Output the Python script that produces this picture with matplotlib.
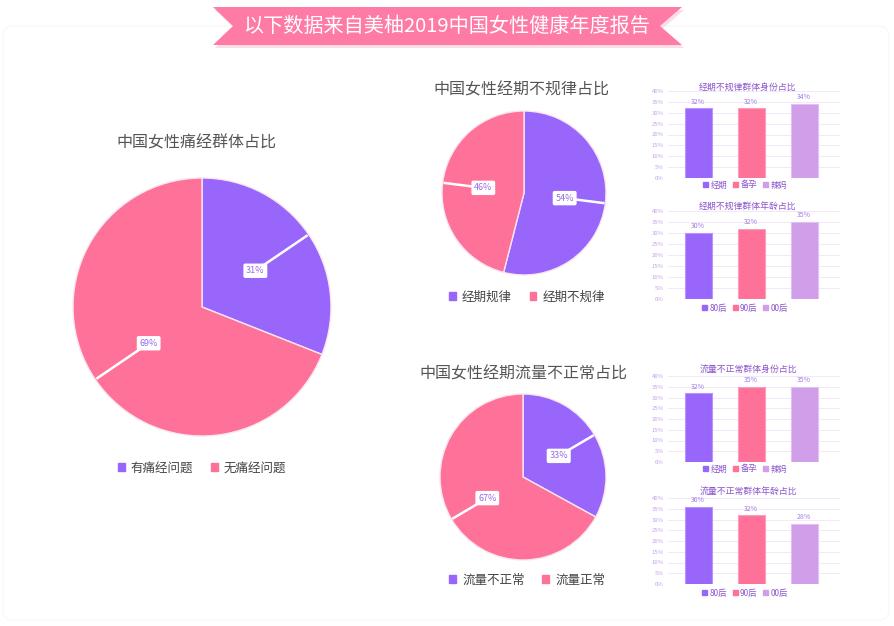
import numpy as np
import matplotlib
matplotlib.use("Agg")
import matplotlib.pyplot as plt
from matplotlib.patches import Patch, Polygon, FancyBboxPatch

plt.rcParams['font.family'] = ['Noto Sans CJK SC', 'DejaVu Sans']

# ---------------- data ----------------
banner_text = "以下数据来自美柚2019中国女性健康年度报告"

pain_title = "中国女性痛经群体占比"
pain_labels = ["有痛经问题", "无痛经问题"]
pain_values = [31, 69]

regular_title = "中国女性经期不规律占比"
regular_labels = ["经期规律", "经期不规律"]
regular_values = [54, 46]

flow_title = "中国女性经期流量不正常占比"
flow_labels = ["流量不正常", "流量正常"]
flow_values = [33, 67]

identity_cats = ["经期", "备孕", "辣妈"]
age_cats = ["80后", "90后", "00后"]

irregular_identity_title = "经期不规律群体身份占比"
irregular_identity_values = [32, 32, 34]
irregular_age_title = "经期不规律群体年龄占比"
irregular_age_values = [30, 32, 35]
flow_identity_title = "流量不正常群体身份占比"
flow_identity_values = [32, 35, 35]
flow_age_title = "流量不正常群体年龄占比"
flow_age_values = [36, 32, 28]

y_ticks = [0, 5, 10, 15, 20, 25, 30, 35, 40]

# ---------------- style ----------------
PURPLE = "#9966fb"
PINK = "#fe7199"
LILAC = "#d19ee9"
W, H = 894, 626

fig = plt.figure(figsize=(W / 100, H / 100), dpi=100)
fig.patch.set_facecolor("white")


def rect(x0, y0, x1, y1):
    return [x0 / W, 1 - y1 / H, (x1 - x0) / W, (y1 - y0) / H]


def fx(x):
    return x / W


def fy(y):
    return 1 - y / H


# background card + banner
bg = fig.add_axes([0, 0, 1, 1])
bg.set_xlim(0, W)
bg.set_ylim(H, 0)
bg.axis("off")
bg.add_patch(FancyBboxPatch((3, 26), 886, 594, boxstyle="round,pad=0,rounding_size=10",
                            fc="none", ec="#fbf7f9", lw=1.0))
shadow = Polygon([(215, 10), (235, 29), (215, 48), (684, 48), (662, 29), (684, 10)],
                 closed=True, fc="#fbdde8", ec="none")
bg.add_patch(shadow)
ribbon = Polygon([(213, 7), (233, 26), (213, 45), (682, 45), (660, 26), (682, 7)],
                 closed=True, fc="#fe7ba6", ec="none")
bg.add_patch(ribbon)
bg.text(447, 26, banner_text, ha="center", va="center", fontsize=14.5, color="white")


def draw_pie(cx, cy, r, values, labels, title, title_xy, legend_xy):
    pad = 1.12
    ax = fig.add_axes(rect(cx - r * pad, cy - r * pad, cx + r * pad, cy + r * pad))
    wedges, _ = ax.pie(values, colors=[PURPLE, PINK], startangle=90, counterclock=False,
                       radius=1, wedgeprops=dict(edgecolor="#fbe6ef", linewidth=1))
    ax.set_xlim(-pad, pad)
    ax.set_ylim(-pad, pad)
    ax.set_aspect("equal")
    ax.axis("off")
    for w, v in zip(wedges, values):
        ang = np.deg2rad((w.theta1 + w.theta2) / 2)
        c, s = np.cos(ang), np.sin(ang)
        ax.plot([0.5 * c, 0.99 * c], [0.5 * s, 0.99 * s], color="white", lw=1.8,
                solid_capstyle="butt", zorder=3)
        ax.text(0.5 * c, 0.5 * s, f"{v}%", ha="center", va="center", fontsize=6.5,
                color="#9a6ae8", zorder=4,
                bbox=dict(boxstyle="round,pad=0.3,rounding_size=0.2", fc="white", ec="none"))
    fig.text(fx(title_xy[0]), fy(title_xy[1]), title, ha="center", va="center",
             fontsize=11.5, color="#555555")
    handles = [Patch(color=PURPLE, label=labels[0]), Patch(color=PINK, label=labels[1])]
    fig.legend(handles=handles, loc="center", bbox_to_anchor=(fx(legend_xy[0]), fy(legend_xy[1])),
               ncol=2, frameon=False, fontsize=9, handlelength=0.55, handleheight=0.55,
               handletextpad=0.5, columnspacing=1.4, labelcolor="#444444", borderpad=0)


draw_pie(202, 307, 129, pain_values, pain_labels, pain_title, (196, 143), (202, 468))
draw_pie(524, 193, 82, regular_values, regular_labels, regular_title, (521, 90), (527, 297))
draw_pie(523, 477, 83, flow_values, flow_labels, flow_title, (523, 374), (527, 580))


def draw_bar(ytop, ybot, values, cats, title, title_y, legend_y):
    ax = fig.add_axes(rect(668, ytop, 840, ybot))
    x = np.arange(len(values))
    ax.bar(x, values, width=0.51, color=[PURPLE, PINK, LILAC],
           edgecolor=["#b894ff", "#ff9bbb", "#e2c0f2"], linewidth=0.8, zorder=2)
    ax.set_xlim(-0.57, 2.68)
    ax.set_ylim(0, 40)
    ax.set_yticks(y_ticks)
    ax.set_yticklabels([f"{t}%" for t in y_ticks], fontsize=4.3, color="#c6a2e6")
    ax.set_xticks([])
    ax.tick_params(axis="y", length=0, pad=3)
    for sp in ax.spines.values():
        sp.set_visible(False)
    ax.grid(axis="y", color="#efe5f8", lw=0.6)
    ax.set_axisbelow(True)
    for xi, v in zip(x, values):
        ax.text(xi, v + 1.2, f"{v}%", ha="center", va="bottom", fontsize=5, color="#a67ce3")
    fig.text(fx(748), fy(title_y), title, ha="center", va="center", fontsize=6.4,
             color="#8d56cc", fontweight="medium")
    handles = [Patch(color=c, label=l) for c, l in zip([PURPLE, PINK, LILAC], cats)]
    fig.legend(handles=handles, loc="center", bbox_to_anchor=(fx(745), fy(legend_y)),
               ncol=3, frameon=False, fontsize=6, handlelength=0.6, handleheight=0.6,
               handletextpad=0.3, columnspacing=0.7, labelcolor="#8d56cc", borderpad=0)


draw_bar(91, 178, irregular_identity_values, identity_cats, irregular_identity_title, 87, 185)
draw_bar(211, 299, irregular_age_values, age_cats, irregular_age_title, 207, 308)
draw_bar(376, 462, flow_identity_values, identity_cats, flow_identity_title, 370, 469)
draw_bar(498, 584, flow_age_values, age_cats, flow_age_title, 492, 593)

fig.savefig("out.png", dpi=100, facecolor="white")
